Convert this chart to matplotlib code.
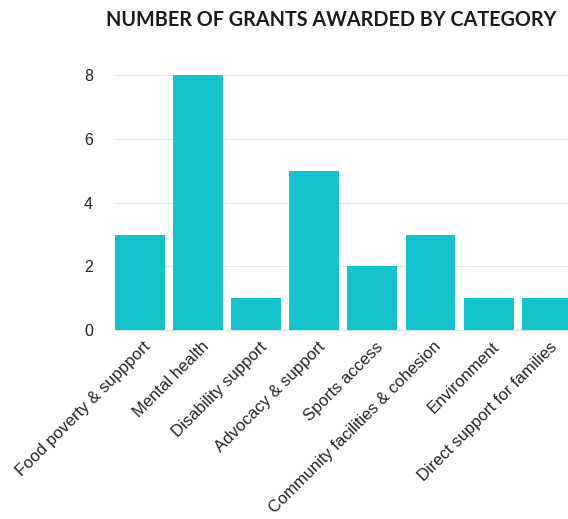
import matplotlib
matplotlib.use("Agg")
import matplotlib.pyplot as plt

categories = ["Food poverty & suppport", "Mental health", "Disability support",
              "Advocacy & support", "Sports access", "Community facilities & cohesion",
              "Environment", "Direct support for families"]
grants = [3, 8, 1, 5, 2, 3, 1, 1]
yticks = [0, 2, 4, 6, 8]

fig = plt.figure(figsize=(5.68, 5.19), dpi=100)
ax = fig.add_axes([0.2025, 0.364, 0.804, 0.491])
x = list(range(len(categories)))
ax.bar(x, grants, width=0.86, color="#13C2CB", zorder=3)
ax.set_xlim(-0.43, 7.43)
ax.set_ylim(0, 8)
ax.set_yticks(yticks)
ax.set_yticklabels([str(t) for t in yticks], fontsize=11.5, color="#222222",
                   family="Liberation Sans")
ax.grid(axis="y", color="#e6e6e6", linewidth=0.8, zorder=0)
for s in ["top", "right", "left"]:
    ax.spines[s].set_visible(False)
ax.spines["bottom"].set_color("#cfe9ea")
ax.tick_params(axis="both", length=0)
ax.tick_params(axis="y", pad=16)
ax.set_xticks(x)
ax.set_xticklabels(categories, rotation=45, ha="right", rotation_mode="anchor",
                   fontsize=12, color="#222222", family="Liberation Sans")
for lbl in ax.get_xticklabels():
    lbl.set_transform(lbl.get_transform() + matplotlib.transforms.ScaledTranslation(3/100, -4/100, fig.dpi_scale_trans))
fig.text(0.583, 0.961, "NUMBER OF GRANTS AWARDED BY CATEGORY", ha="center", va="center",
         fontsize=14.2, fontweight="bold", family="Lato", color="#1a1a1a")
fig.savefig("out.png", dpi=100)
